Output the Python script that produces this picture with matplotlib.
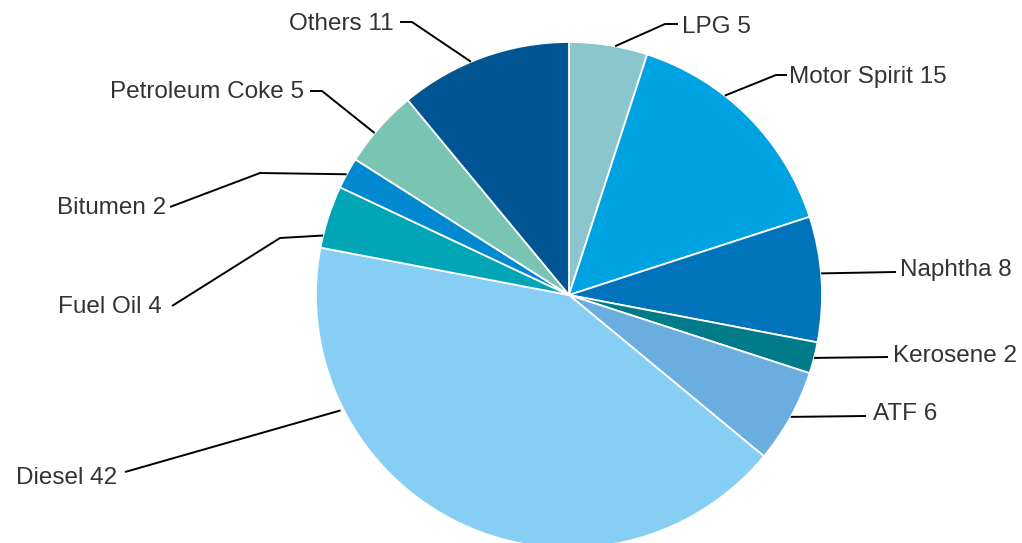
import numpy as np
import matplotlib
matplotlib.use("Agg")
import matplotlib.pyplot as plt

# Product shares (percent), clockwise from the top
products = ["LPG", "Motor Spirit", "Naphtha", "Kerosene", "ATF",
            "Diesel", "Fuel Oil", "Bitumen", "Petroleum Coke", "Others"]
shares = [5, 15, 8, 2, 6, 42, 4, 2, 5, 11]

colors = ["#8BC6CF", "#00A3E2", "#0073BB", "#007B8A", "#6AADDF",
          "#86CEF4", "#00A6B5", "#0089D0", "#7AC4B3", "#005592"]

# layout of labels in pixel coords (y measured from top)
# angle offset from wedge middle, elbow point, line end, text point, alignment
label_layout = [
    (-1.5, (665, 24), (678, 24), (682, 27), "left"),
    (7.0, (776, 75), (787, 75), (789, 77), "left"),
    (1.3, None, (896, 272), (900, 270), "left"),
    (0.0, None, (888, 357), (893, 356), "left"),
    (0.0, None, (866, 416), (873, 414), "left"),
    (-38.0, None, (125, 472), (117, 478), "right"),
    (4.4, (280, 238), (172, 306), (162, 307), "right"),
    (0.3, (260, 173), (170, 207), (166, 208), "right"),
    (1.6, (322, 91), (310, 91), (304, 92), "right"),
    (3.0, (412, 22), (400, 22), (394, 24), "right"),
]

W, H = 1022, 543
cx, cy, R = 569, 295, 253


def px(x, y):
    return x, H - y


plt.rcParams["font.family"] = ["Liberation Sans", "DejaVu Sans"]

fig = plt.figure(figsize=(W / 100, H / 100), dpi=100)
ax = fig.add_axes([0, 0, 1, 1])

wedges, _ = ax.pie(shares, colors=colors, startangle=90, counterclock=False,
                   center=px(cx, cy), radius=R,
                   wedgeprops=dict(edgecolor="white", linewidth=1.3))

for w, name, val, lay in zip(wedges, products, shares, label_layout):
    off, elbow, end, tpos, ha = lay
    mid = (w.theta1 + w.theta2) / 2 + off
    r0 = R + 3 if name == "Diesel" else R
    sx = cx + r0 * np.cos(np.radians(mid))
    sy = cy - r0 * np.sin(np.radians(mid))
    pts = [(sx, sy)]
    if elbow is not None:
        pts.append(elbow)
    pts.append(end)
    xs = [p[0] for p in pts]
    ys = [H - p[1] for p in pts]
    ax.plot(xs, ys, color="black", lw=1.4, solid_capstyle="butt")
    ax.text(*px(*tpos), f"{name} {val}", ha=ha, va="center",
            fontsize=17.5, color="#333333")

ax.set_xlim(0, W)
ax.set_ylim(0, H)
ax.set_aspect("equal")
ax.axis("off")

fig.savefig("out.png", dpi=100)
